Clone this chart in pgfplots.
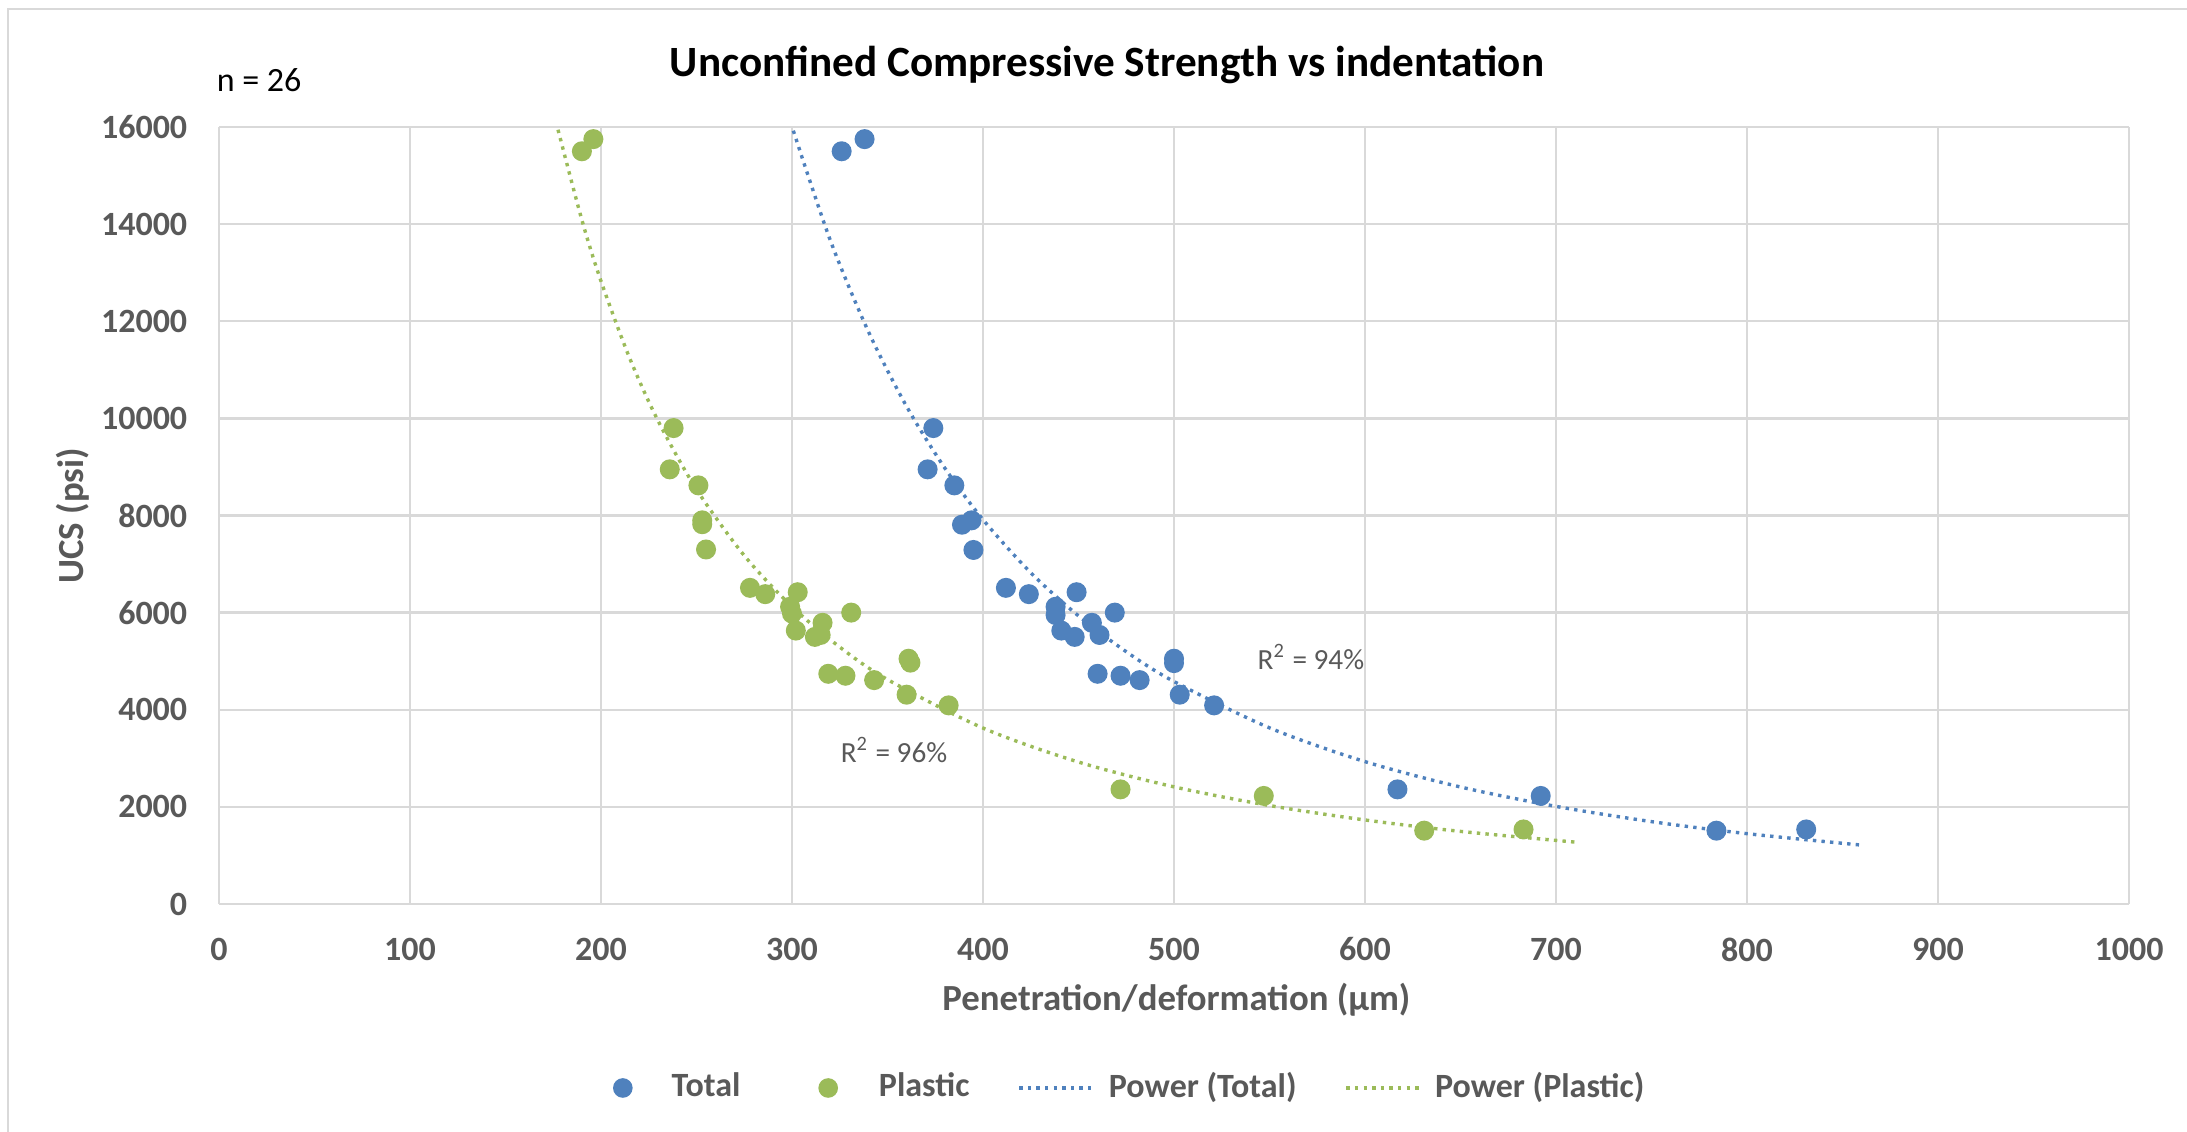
\documentclass[border=0pt]{standalone}
\usepackage{fontspec}
\setmainfont{Carlito}
\usepackage{pgfplots}
\pgfplotsset{compat=1.18}
\definecolor{gridgray}{HTML}{D9D9D9}
\definecolor{labgray}{HTML}{595959}
\definecolor{blueC}{HTML}{4F81BD}
\definecolor{greenC}{HTML}{9BBB59}
\newcommand{\lblfont}{\fontsize{8.5}{10}\selectfont\bfseries}
\begin{document}
\begin{tikzpicture}
\useasboundingbox (0,0) rectangle (546.75pt,283pt);
\draw[gridgray, line width=0.6pt] (2pt,0) -- (2pt,280.75pt) -- (546.75pt,280.75pt);
\begin{axis}[
  at={(54.75pt,57pt)}, anchor=south west,
  scale only axis, width=477.5pt, height=194.25pt,
  xmin=0, xmax=1000, ymin=0, ymax=16000,
  xtick={0,100,...,1000}, ytick={0,2000,...,16000},
  grid=major, major grid style={draw=gridgray, line width=0.6pt},
  axis line style={draw=none}, major tick length=0pt,
  tick label style={font=\lblfont, text=labgray},
  /pgf/number format/assume math mode=true,
  /pgf/number format/1000 sep={},
  scaled ticks=false,
  xticklabel style={anchor=north, inner sep=0pt, yshift=-8.25pt},
  yticklabel style={anchor=east, inner sep=0pt, xshift=-7.75pt},
  xlabel={Penetration/deformation (µm)},
  ylabel={UCS (psi)},
  xlabel style={at={(axis description cs:0.5013,-0.1236)}, anchor=center, font=\fontsize{9.2}{11}\selectfont\bfseries, text=labgray, inner sep=0pt},
  ylabel style={at={(axis description cs:-0.0764,0.4994)}, anchor=center, font=\fontsize{9.2}{11}\selectfont\bfseries, text=labgray, inner sep=0pt},
  legend style={draw=none, fill=none, inner sep=0pt, outer sep=0pt,
    at={(axis description cs:0.2063,-0.2368)}, anchor=west,
    font=\lblfont, text=labgray, nodes={inner sep=0pt}, column sep=0pt},
  legend columns=4, legend cell align=left,
]
\addplot[only marks, mark=*, mark size=2.3pt, color=blueC, mark options={fill=blueC, draw=blueC},
  legend image code/.code={\path (0pt,0pt) (14.25pt,0pt); \fill[blueC] (2.25pt,0pt) circle (2.25pt);}]
table {
x y
326 15500
338 15750
374 9800
371 8950
385 8620
389 7810
394 7900
395 7290
412 6510
424 6380
449 6420
438 6120
438 5950
441 5630
457 5790
448 5500
461 5540
469 6000
500 5050
500 4960
460 4740
472 4700
482 4610
503 4310
521 4090
617 2360
692 2225
784 1510
831 1535
};
\addlegendentry{Total}
\addplot[only marks, mark=*, mark size=2.3pt, color=greenC, mark options={fill=greenC, draw=greenC},
  legend image code/.code={\path (0pt,0pt) (34.25pt,0pt); \fill[greenC] (21.75pt,0pt) circle (2.25pt);}]
table {
x y
190 15500
196 15750
238 9800
236 8950
251 8620
253 7900
253 7820
255 7300
278 6510
286 6380
303 6420
299 6120
300 5980
302 5630
316 5790
312 5500
315 5540
331 6000
361 5050
362 4970
319 4740
328 4700
343 4610
360 4310
382 4090
472 2360
547 2225
631 1510
683 1535
};
\addlegendentry{Plastic}
\addplot[blueC, line width=0.85pt, dash pattern=on 0.85pt off 1.3pt, smooth,
  legend image code/.code={\path (0pt,0pt) (34pt,0pt); \draw[blueC, line width=0.85pt, dash pattern=on 0.85pt off 1.3pt] (12pt,0pt) -- (30.5pt,0pt);}]
table {
x y
300.7 15924
320 13672
340 11787
360 10245
380 8977
400 7914
425 6822
450 5932
475 5195
500 4581
550 3627
600 2932
650 2409
700 2010
750 1696
800 1448
860 1212
};
\addlegendentry{Power (Total)}
\addplot[greenC, line width=0.85pt, dash pattern=on 0.85pt off 1.3pt, smooth,
  legend image code/.code={\path (0pt,0pt) (33.75pt,0pt); \draw[greenC, line width=0.85pt, dash pattern=on 0.85pt off 1.3pt] (12pt,0pt) -- (30.5pt,0pt);}]
table {
x y
177.5 15944
190 14084
200 12826
215 11241
230 9940
250 8538
275 7175
300 6122
325 5290
350 4622
400 3623
450 2923
500 2412
550 2027
600 1730
650 1495
712 1267
};
\addlegendentry{Power (Plastic)}
\node[font=\fontsize{7.3}{9}\selectfont, text=labgray, anchor=center] at (axis cs:571.7,5088) {R\textsuperscript{2} = 94\%};
\node[font=\fontsize{7.3}{9}\selectfont, text=labgray, anchor=center] at (axis cs:353.4,3172) {R\textsuperscript{2} = 96\%};
\end{axis}
\node[font=\fontsize{10.8}{13}\selectfont\bfseries, anchor=center, inner sep=0pt] at (276.75pt,266.75pt) {Unconfined Compressive Strength vs indentation};
\node[font=\fontsize{8.5}{10}\selectfont, anchor=west, inner sep=0pt] at (54pt,263pt) {n = 26};
\end{tikzpicture}
\end{document}
